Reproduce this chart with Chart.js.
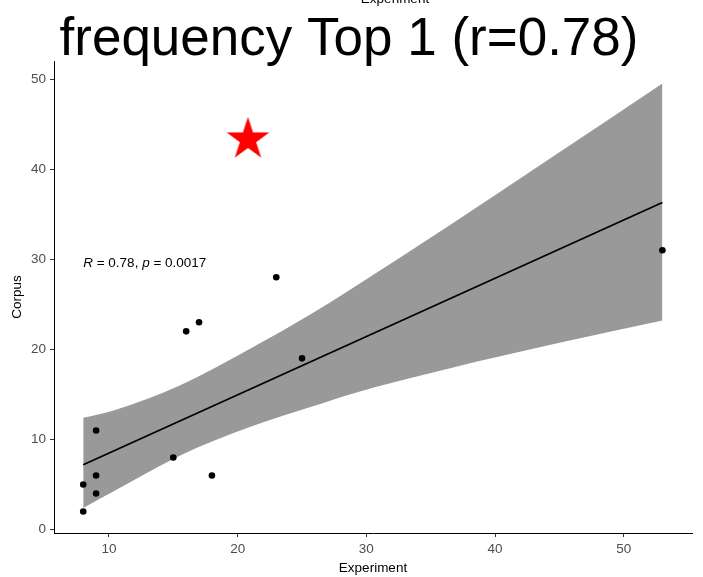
<!DOCTYPE html>
<html>
<head>
<meta charset="utf-8">
<script src="https://cdn.jsdelivr.net/npm/chart.js@4.4.1/dist/chart.umd.min.js"></script>
<style>
html, body { margin: 0; padding: 0; background: #fff; }
#wrap { width: 703px; height: 577px; }
</style>
</head>
<body>
<div id="wrap"><canvas id="chart" width="703" height="577"></canvas></div>
<script>
// points
var expX = [8, 8, 9, 9, 9, 15, 16, 17, 18, 23, 25, 53];
var corpusY = [2, 5, 11, 6, 4, 8, 22, 23, 6, 28, 19, 31];

// fitted line and its confidence band
var fitX = [8, 53];
var fitY = [7.2, 36.3];
var bandX = [8, 10.3, 15.5, 21, 25.9, 28.7, 36.5, 44.3, 53];
var bandUpper = [12.4, 13.2, 16.0, 20.1, 24.1, 26.6, 33.8, 41.2, 49.5];
var bandLower = [2.4, 4.2, 8.2, 11.4, 13.7, 15.0, 17.9, 20.5, 23.2];

var starX = [20.8];
var starY = [43.3];

var xTicks = [10, 20, 30, 40, 50];
var yTicks = [0, 10, 20, 30, 40, 50];

var titleText = "frequency Top 1 (r=0.78)";
var corR = "0.78";
var corP = "0.0017";
var corPos = {x: 8, y: 29.5};

var FONT = '"Liberation Sans", Arial, sans-serif';

function toXY(xs, ys) {
    var out = [];
    for (let i = 0; i < xs.length; i++) {
        out.push({x: xs[i], y: ys[i]});
    }
    return out;
}

function makeStar(R) {
    var c = document.createElement("canvas");
    var size = Math.ceil(R * 2 + 2);
    c.width = size;
    c.height = size;
    var g = c.getContext("2d");
    var cx = size / 2, cy = size / 2;
    var r = R * 0.382;
    g.beginPath();
    for (let i = 0; i < 10; i++) {
        var rad = (i % 2 === 0) ? R : r;
        var a = -Math.PI / 2 + i * Math.PI / 5;
        var px = cx + rad * Math.cos(a);
        var py = cy + rad * Math.sin(a);
        if (i === 0) g.moveTo(px, py); else g.lineTo(px, py);
    }
    g.closePath();
    g.fillStyle = "#ff0000";
    g.fill();
    return c;
}

var textPlugin = {
    id: "texts",
    afterDraw: function(chart) {
        var ctx = chart.ctx;
        var xs = chart.scales.x;
        var ys = chart.scales.y;
        ctx.save();
        ctx.fillStyle = "#000";

        // clipped axis title left over at the very top
        ctx.font = "13.5px " + FONT;
        ctx.textAlign = "center";
        ctx.textBaseline = "alphabetic";
        ctx.fillText("Experiment", 395, 3);

        // big title
        ctx.font = "53px " + FONT;
        ctx.fillText(titleText, 349, 55);

        // correlation label, R and p in italic
        var px = xs.getPixelForValue(corPos.x);
        var py = ys.getPixelForValue(corPos.y);
        ctx.textAlign = "left";
        ctx.textBaseline = "middle";
        var parts = [
            ["R", true],
            [" = " + corR + ", ", false],
            ["p", true],
            [" = " + corP, false]
        ];
        for (let i = 0; i < parts.length; i++) {
            ctx.font = (parts[i][1] ? "italic " : "") + "13.5px " + FONT;
            ctx.fillText(parts[i][0], px, py);
            px += ctx.measureText(parts[i][0]).width;
        }
        ctx.restore();
    }
};

var ctx = document.getElementById("chart").getContext("2d");
var myChart = new Chart(ctx, {
    type: "scatter",
    data: {
        datasets: [
            {
                label: "star",
                data: toXY(starX, starY),
                pointStyle: makeStar(22.5),
                pointRadius: 22,
                pointHoverRadius: 22
            },
            {
                label: "points",
                data: toXY(expX, corpusY),
                backgroundColor: "#000",
                borderColor: "#000",
                pointRadius: 3.3,
                borderWidth: 0
            },
            {
                label: "fit",
                data: toXY(fitX, fitY),
                showLine: true,
                borderColor: "#000",
                borderWidth: 1.8,
                pointRadius: 0,
                fill: false
            },
            {
                label: "upper",
                data: toXY(bandX, bandUpper),
                showLine: true,
                borderWidth: 0,
                borderColor: "rgba(0,0,0,0)",
                pointRadius: 0,
                cubicInterpolationMode: "monotone",
                backgroundColor: "#999999",
                fill: "+1"
            },
            {
                label: "lower",
                data: toXY(bandX, bandLower),
                showLine: true,
                borderWidth: 0,
                borderColor: "rgba(0,0,0,0)",
                pointRadius: 0,
                cubicInterpolationMode: "monotone",
                fill: false
            }
        ]
    },
    options: {
        responsive: false,
        animation: false,
        devicePixelRatio: 1,
        layout: {
            autoPadding: false,
            padding: {top: 61, right: 11, left: 0, bottom: 0}
        },
        plugins: {
            legend: {display: false},
            tooltip: {enabled: false},
            title: {display: false}
        },
        scales: {
            x: {
                type: "linear",
                min: 5.73,
                max: 55.3,
                afterFit: function(s) {
                    s.height = 44;
                    s.paddingLeft = 0;
                    s.paddingRight = 0;
                },
                afterBuildTicks: function(s) {
                    s.ticks = xTicks.map(function(v) { return {value: v}; });
                },
                grid: {
                    drawOnChartArea: false,
                    drawTicks: true,
                    tickLength: 4,
                    color: "#333"
                },
                border: {display: true, color: "#000", width: 1},
                ticks: {
                    color: "#4d4d4d",
                    padding: 4,
                    maxRotation: 0,
                    font: {family: FONT, size: 13.5}
                },
                title: {
                    display: true,
                    text: "Experiment",
                    color: "#000",
                    font: {family: FONT, size: 13.5},
                    padding: {top: 0, bottom: 1}
                }
            },
            y: {
                type: "linear",
                min: -0.38,
                max: 52,
                afterFit: function(s) {
                    s.width = 54;
                    s.paddingTop = 0;
                    s.paddingBottom = 0;
                },
                afterBuildTicks: function(s) {
                    s.ticks = yTicks.map(function(v) { return {value: v}; });
                },
                grid: {
                    drawOnChartArea: false,
                    drawTicks: true,
                    tickLength: 4,
                    color: "#333"
                },
                border: {display: true, color: "#000", width: 1},
                ticks: {
                    color: "#4d4d4d",
                    padding: 4,
                    font: {family: FONT, size: 13.5}
                },
                title: {
                    display: true,
                    text: "Corpus",
                    color: "#000",
                    font: {family: FONT, size: 13.5},
                    padding: {top: 9, bottom: 0}
                }
            }
        }
    },
    plugins: [textPlugin]
});
</script>
</body>
</html>
